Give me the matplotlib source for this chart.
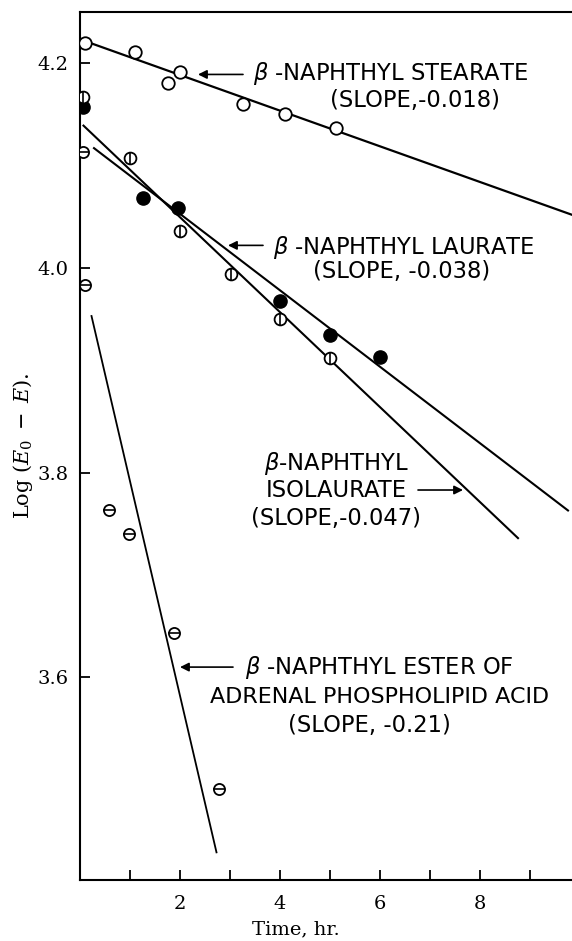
import matplotlib.pyplot as plt
from matplotlib.ticker import FixedLocator

# Values: time (hr) and Log(E0 - E)
stearate_t = [0.1, 1.1, 1.76, 2.0, 3.27, 4.1, 5.13]
stearate_v = [4.220, 4.211, 4.181, 4.191, 4.160, 4.150, 4.137]

laurate_t = [0.07, 1.27, 1.97, 4.0, 5.0, 6.0]
laurate_v = [4.157, 4.068, 4.059, 3.968, 3.934, 3.913]

isolaurate_t = [0.07, 1.0, 2.0, 3.03, 4.0, 5.0]
isolaurate_v = [4.167, 4.107, 4.036, 3.994, 3.950, 3.912]

adrenal_t = [0.06, 0.1, 0.58, 0.98, 1.88, 2.78]
adrenal_v = [4.113, 3.983, 3.763, 3.740, 3.643, 3.491]

# Fitted straight lines (end points)
stearate_fit_t = [0.2, 9.9]
stearate_fit_v = [4.220, 4.051]
laurate_fit_t = [0.29, 9.77]
laurate_fit_v = [4.117, 3.763]
isolaurate_fit_t = [0.08, 8.77]
isolaurate_fit_v = [4.139, 3.736]
adrenal_fit_t = [0.24, 2.74]
adrenal_fit_v = [3.953, 3.429]

x_major = [2, 4, 6, 8]
x_minor = [1, 3, 5, 7, 9]
y_ticks = [3.6, 3.8, 4.0, 4.2]

fig = plt.figure(figsize=(5.72, 9.41), dpi=100)
ax = fig.add_axes([79.5 / 572, 61 / 941, 1 - 79.5 / 572, 868 / 941])

# Lines
ax.plot(stearate_fit_t, stearate_fit_v, color='k', lw=1.6, zorder=2)
ax.plot(laurate_fit_t, laurate_fit_v, color='k', lw=1.5, zorder=2)
ax.plot(isolaurate_fit_t, isolaurate_fit_v, color='k', lw=1.5, zorder=2)
ax.plot(adrenal_fit_t, adrenal_fit_v, color='k', lw=1.3, zorder=2)

# Points
ax.plot(stearate_t, stearate_v, 'o', ms=9, mfc='white', mec='k', mew=1.3, zorder=3)
ax.plot(laurate_t, laurate_v, 'o', ms=9.5, mfc='k', mec='k', zorder=3)
ax.plot(isolaurate_t, isolaurate_v, 'o', ms=8.5, mfc='white', mec='k', mew=1.3, zorder=3)
ax.plot(isolaurate_t, isolaurate_v, '|', ms=8.5, mec='k', mew=1.2, zorder=4)
ax.plot(adrenal_t, adrenal_v, 'o', ms=8, mfc='white', mec='k', mew=1.3, zorder=3)
ax.plot(adrenal_t, adrenal_v, '_', ms=8, mec='k', mew=1.2, zorder=4)

ax.set_xlim(0, 9.85)
ax.set_ylim(3.402, 4.25)

# Axes styling
ax.spines['right'].set_visible(False)
for s in ['left', 'top', 'bottom']:
    ax.spines[s].set_linewidth(1.5)

ax.xaxis.set_major_locator(FixedLocator(x_major))
ax.xaxis.set_minor_locator(FixedLocator(x_minor))
ax.yaxis.set_major_locator(FixedLocator(y_ticks))
ax.set_yticklabels([f'{v:.1f}' for v in y_ticks])
ax.tick_params(axis='both', which='both', direction='in', length=7, width=1.3)
ax.tick_params(axis='x', which='major', pad=11, labelsize=14)
ax.tick_params(axis='y', which='major', pad=8, labelsize=14)
for lab in ax.get_xticklabels() + ax.get_yticklabels():
    lab.set_fontfamily('DejaVu Serif')

ax.set_xlabel('Time, hr.', fontsize=14, fontfamily='DejaVu Serif', va='center')
ax.xaxis.set_label_coords(0.44, -0.057)
ax.set_ylabel(r'Log $(E_0\;-\;E)$.', fontsize=15, fontfamily='DejaVu Serif',
              math_fontfamily='dejavuserif', va='center')
ax.yaxis.set_label_coords(-0.115, 0.50)

# Annotations
txt = dict(fontsize=16.3, fontfamily='DejaVu Sans', va='center', color='k')
arrow = dict(arrowstyle='-|>', color='k', lw=1.2, mutation_scale=13, shrinkA=0, shrinkB=0)

ax.annotate('', xy=(2.37, 4.189), xytext=(3.27, 4.189), arrowprops=arrow)
ax.text(3.47, 4.190, r'$\beta$ -NAPHTHYL STEARATE', ha='left', **txt)
ax.text(5.01, 4.164, '(SLOPE,-0.018)', ha='left', **txt)

ax.annotate('', xy=(2.97, 4.022), xytext=(3.67, 4.022), arrowprops=arrow)
ax.text(3.87, 4.020, r'$\beta$ -NAPHTHYL LAURATE', ha='left', **txt)
ax.text(4.67, 3.996, '(SLOPE, -0.038)', ha='left', **txt)

ax.text(5.13, 3.809, r'$\beta$-NAPHTHYL', ha='center', **txt)
ax.text(5.13, 3.783, 'ISOLAURATE', ha='center', **txt)
ax.text(5.13, 3.755, '(SLOPE,-0.047)', ha='center', **txt)
ax.annotate('', xy=(7.67, 3.783), xytext=(6.77, 3.783), arrowprops=arrow)

ax.annotate('', xy=(2.01, 3.610), xytext=(3.07, 3.610), arrowprops=arrow)
ax.text(3.31, 3.610, r'$\beta$ -NAPHTHYL ESTER OF', ha='left', **txt)
ax.text(2.61, 3.581, 'ADRENAL PHOSPHOLIPID ACID', ha='left', fontsize=16,
        fontfamily='DejaVu Sans', va='center')
ax.text(4.17, 3.553, '(SLOPE, -0.21)', ha='left', **txt)

fig.savefig('out.png', dpi=100)
